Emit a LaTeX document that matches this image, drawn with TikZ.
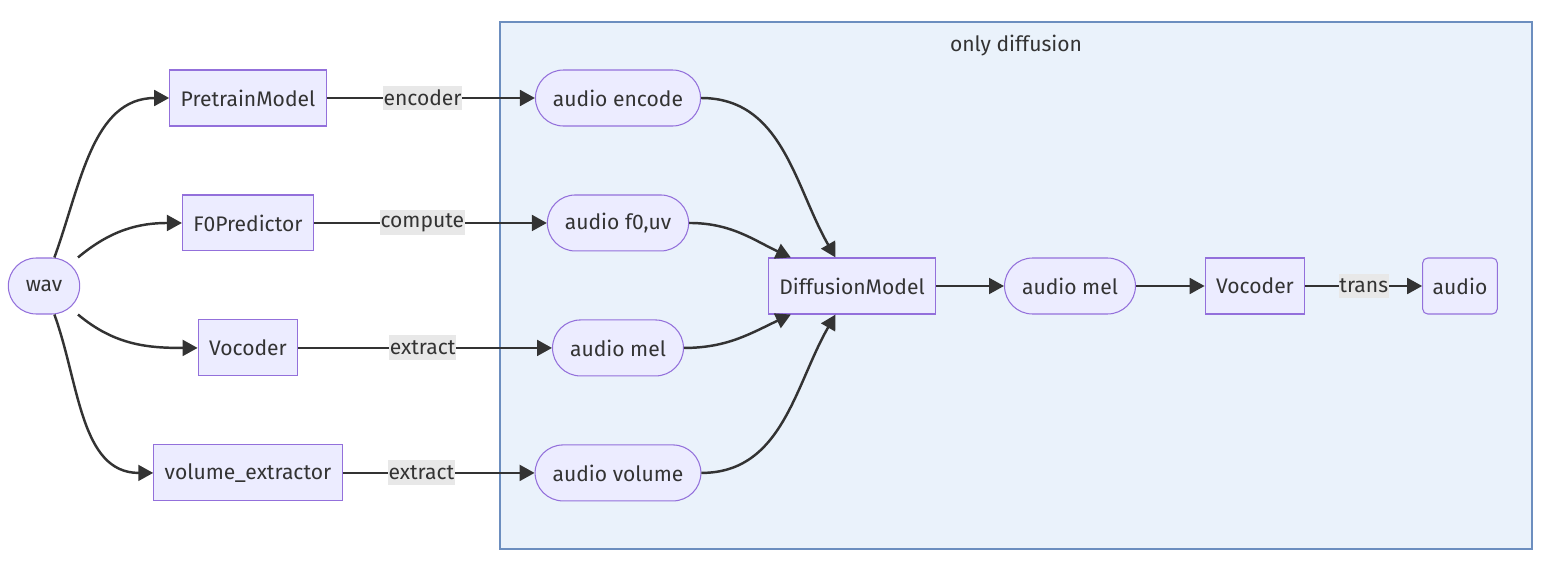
\documentclass[tikz,border=0pt]{standalone}
\usepackage{fontspec}
\setmainfont{Fira Sans}
\usetikzlibrary{arrows.meta, positioning}
\definecolor{nodefill}{HTML}{ECECFF}
\definecolor{nodeline}{HTML}{9370DB}
\definecolor{edgeline}{HTML}{333333}
\definecolor{labelfill}{HTML}{E8E8E8}
\definecolor{clusterfill}{HTML}{EAF2FB}
\definecolor{clusterline}{HTML}{6C8EBF}
\tikzstyle{box} = [rectangle, minimum height=1.12cm, inner xsep=0.22cm, text centered, draw=nodeline, fill=nodefill, line width=0.6pt, text=edgeline]
\tikzstyle{pill} = [box, rounded corners=0.56cm, inner xsep=0.35cm]
\tikzstyle{edgelabel} = [fill=labelfill, inner xsep=0.5pt, inner ysep=1pt, minimum height=0.5cm, text=edgeline]
\tikzstyle{arrow} = [draw=edgeline, line width=1.4pt, -{Triangle[length=8.5pt, width=9pt]}]
\tikzstyle{cluster} = [draw=clusterline, fill=clusterfill, line width=0.7pt]

\begin{document}
\begin{tikzpicture}[x=0.02cm, y=-0.02cm, node distance=2.5cm, font=\fontsize{12}{14}\selectfont]
\useasboundingbox (0,0) rectangle (1553,561);

% Cluster
\draw [cluster] (500,22) rectangle (1532,549);
\node (title) [text=edgeline] at (1016,46) {only diffusion};

% Source
\node (wav) [pill] at (44,286) {wav};

% Extractors
\node (pretrain) [box] at (248,98) {PretrainModel};
\node (f0pred) [box, below of=pretrain] {F0Predictor};
\node (vocoder) [box, below of=f0pred] {Vocoder};
\node (volext) [box, below of=vocoder] {volume\_extractor};

% Features
\node (audenc) [pill] at (618,98) {audio encode};
\node (audf0) [pill, below of=audenc] {audio f0,uv};
\node (audmel) [pill, below of=audf0] {audio mel};
\node (audvol) [pill, below of=audmel] {audio volume};

% Diffusion chain
\node (diffmodel) [box] at (852,286) {DiffusionModel};
\node (melout) [pill] at (1070,286) {audio mel};
\node (vocout) [box] at (1255,286) {Vocoder};
\node (audio) [box, rounded corners=0.1cm, inner xsep=0.2cm] at (1460,286) {audio};

% Arrows
\draw [arrow] (wav) to[out=70, in=180] (pretrain);
\draw [arrow] (wav) to[out=40, in=180] (f0pred);
\draw [arrow] (wav) to[out=-40, in=180] (vocoder);
\draw [arrow] (wav) to[out=-70, in=180] (volext);

\draw [arrow] (pretrain) -- node[edgelabel, pos=0.46] {encoder} (audenc);
\draw [arrow] (f0pred) -- node[edgelabel, pos=0.465] {compute} (audf0);
\draw [arrow] (vocoder) -- node[edgelabel, pos=0.49] {extract} (audmel);
\draw [arrow] (volext) -- node[edgelabel, pos=0.41] {extract} (audvol);

\draw [arrow] (audenc) to[out=0, in=120] (diffmodel);
\draw [arrow] (audf0) to[out=0, in=155] (diffmodel);
\draw [arrow] (audmel) to[out=0, in=205] (diffmodel);
\draw [arrow] (audvol) to[out=0, in=240] (diffmodel);

\draw [arrow] (diffmodel) -- (melout);
\draw [arrow] (melout) -- (vocout);
\draw [arrow] (vocout) -- node[edgelabel] {trans} (audio);

\end{tikzpicture}
\end{document}
